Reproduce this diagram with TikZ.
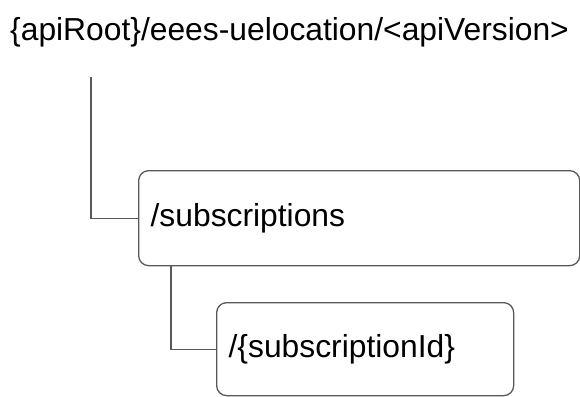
\documentclass[tikz,border=0pt]{standalone}
\usepackage{fontspec}
\setmainfont{Liberation Sans}
\definecolor{linegray}{HTML}{595959}
\begin{document}
\begin{tikzpicture}[x=1bp,y=-1bp,
  lbl/.style={font=\fontsize{31.8bp}{38bp}\selectfont, inner sep=0pt},
  box/.style={draw=linegray, line width=1.3bp, rounded corners=10bp, align=left,
    font=\fontsize{31.8bp}{38bp}\selectfont, inner xsep=12bp, inner ysep=0pt, anchor=north west},
  conn/.style={draw=linegray, line width=1.3bp}]
\useasboundingbox (0,0) rectangle (580,396);
\node[lbl, anchor=base west] (root) at (10,40) {\{apiRoot\}/eees-uelocation/<apiVersion>};
\node[box, text width=417bp, minimum height=95bp] (sub) at (138,170) {/subscriptions};
\node[box, text width=273bp, minimum height=93bp] (sid) at (216,302) {/\{subscriptionId\}};
\coordinate (rootdrop) at (91,77);
\path[conn] (rootdrop) |- (sub.west);
\path[conn] ([xshift=33bp]sub.south west) |- (sid.west);
\end{tikzpicture}
\end{document}
